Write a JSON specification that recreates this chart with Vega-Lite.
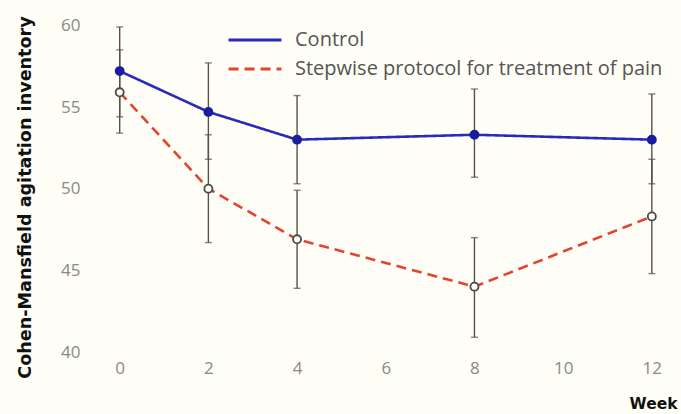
{
  "$schema": "https://vega.github.io/schema/vega-lite/v6.json",
  "width": 592,
  "height": 343,
  "autosize": {"type": "none"},
  "padding": {"left": 82, "top": 9, "right": 7, "bottom": 62},
  "background": "#fefdf6",
  "config": {
    "view": {"stroke": null},
    "font": "Open Sans",
    "axis": {"grid": false, "domain": false, "ticks": false, "labelColor": "#8a8a80", "labelFontSize": 17, "labelFont": "Open Sans"}
  },
  "data": {
    "values": [
      {"week": 0, "group": "Control", "mean": 57.2, "lo": 54.4, "hi": 59.9},
      {"week": 2, "group": "Control", "mean": 54.7, "lo": 51.8, "hi": 57.7},
      {"week": 4, "group": "Control", "mean": 53.0, "lo": 50.3, "hi": 55.7},
      {"week": 8, "group": "Control", "mean": 53.3, "lo": 50.7, "hi": 56.1},
      {"week": 12, "group": "Control", "mean": 53.0, "lo": 50.3, "hi": 55.8},
      {"week": 0, "group": "Stepwise protocol for treatment of pain", "mean": 55.9, "lo": 53.4, "hi": 58.5},
      {"week": 2, "group": "Stepwise protocol for treatment of pain", "mean": 50.0, "lo": 46.7, "hi": 53.3},
      {"week": 4, "group": "Stepwise protocol for treatment of pain", "mean": 46.9, "lo": 43.9, "hi": 49.9},
      {"week": 8, "group": "Stepwise protocol for treatment of pain", "mean": 44.0, "lo": 40.9, "hi": 47.0},
      {"week": 12, "group": "Stepwise protocol for treatment of pain", "mean": 48.3, "lo": 44.8, "hi": 51.8}
    ]
  },
  "encoding": {
    "x": {
      "field": "week", "type": "quantitative",
      "scale": {"domain": [-0.85, 12.5], "nice": false, "zero": false},
      "axis": {"values": [0, 2, 4, 6, 8, 10, 12], "title": "Week", "labelPadding": 8,
               "titleFont": "DejaVu Sans", "titleFontWeight": "bold", "titleFontSize": 15.5, "titleColor": "#111",
               "titleAnchor": null, "titleX": 595, "titleY": 51, "titleAlign": "right", "titleBaseline": "middle"}
    }
  },
  "layer": [
    {
      "mark": {"type": "line", "strokeWidth": 2.6},
      "encoding": {
        "y": {
          "field": "mean", "type": "quantitative",
          "scale": {"domain": [40, 61], "nice": false, "zero": false},
          "axis": {"values": [40, 45, 50, 55, 60], "labelPadding": 2,
                   "title": "Cohen-Mansfield agitation inventory",
                   "titleFont": "DejaVu Sans", "titleFontWeight": "bold", "titleFontSize": 17.6, "titleColor": "#111",
                   "titleAnchor": null, "titleX": -57, "titleY": 188, "titleAlign": "center", "titleBaseline": "middle", "titleAngle": -90}
        },
        "color": {
          "field": "group", "type": "nominal",
          "scale": {"range": ["#2a2ab8", "#e4432f"]},
          "legend": {"title": null, "orient": "none", "legendX": 163, "legendY": 21,
                     "symbolType": "M-4,0H4", "symbolSize": 175, "symbolStrokeWidth": 2.8,
                     "labelFontSize": 20, "labelColor": "#555", "labelFont": "Open Sans", "labelLimit": 600,
                     "rowPadding": 9, "labelOffset": 30}
        },
        "strokeDash": {
          "field": "group", "type": "nominal",
          "scale": {"range": [[1, 0], [10, 6]]},
          "legend": {"title": null}
        }
      }
    },
    {
      "mark": {"type": "rule", "color": "#52524a", "strokeWidth": 1.4},
      "encoding": {"y": {"field": "lo", "type": "quantitative"}, "y2": {"field": "hi"}}
    },
    {
      "mark": {"type": "tick", "orient": "horizontal", "color": "#52524a", "size": 7, "thickness": 1.4},
      "encoding": {"y": {"field": "lo", "type": "quantitative"}}
    },
    {
      "mark": {"type": "tick", "orient": "horizontal", "color": "#52524a", "size": 7, "thickness": 1.4},
      "encoding": {"y": {"field": "hi", "type": "quantitative"}}
    },
    {
      "mark": {"type": "point", "filled": false, "size": 65, "strokeWidth": 1.8, "opacity": 1},
      "encoding": {
        "y": {"field": "mean", "type": "quantitative"},
        "fill": {"field": "group", "type": "nominal", "scale": {"range": ["#1c1ca0", "#ffffff"]}, "legend": null},
        "stroke": {"field": "group", "type": "nominal", "scale": {"range": ["#1c1ca0", "#4a4a44"]}, "legend": null}
      }
    }
  ]
}
